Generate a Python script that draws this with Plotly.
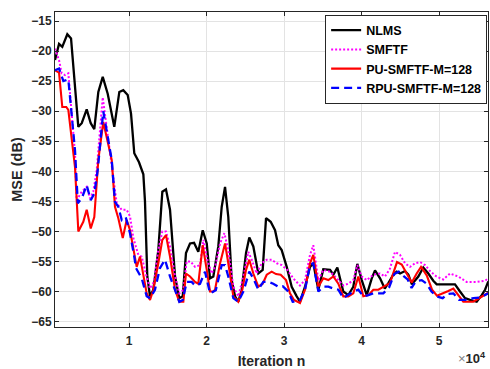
import plotly.graph_objects as go

# ---------------- data ----------------
nlms_iter = [450, 970, 1390, 2040, 2520, 3460, 3900, 4540, 5060, 5520, 6040, 6610, 7250, 8100,
             8750, 9260, 9830, 10260, 10680, 11290, 11850, 12060, 12360, 12710, 13140, 13780,
             14300, 14770, 15290, 15940, 16490, 16930, 17350, 17870, 18390, 18940, 19510, 20030,
             20450, 20880, 21520, 21960, 22390, 22810, 23250, 23680, 24100, 24540, 25100, 25520,
             26040, 26680, 27250, 27680, 28280, 28840, 29260, 29700, 30350, 30990, 31640, 32060,
             32710, 33350, 33780, 34430, 35070, 35940, 36360, 36880, 37650, 38300, 38940, 39460,
             40030, 40670, 41320, 41740, 42390, 43000, 43500, 44100, 44540, 44970, 45610, 46040,
             46500, 47330, 47970, 48620, 49260, 49700, 50550, 52060, 52710, 53350, 54000, 54860,
             55510, 55940, 56360]
nlms_mse = [-21.5, -18.8, -19.3, -17.2, -17.9, -32.6, -32.0, -29.7, -32.0, -33.0, -26.8, -24.3, -27.1, -32.6,
            -26.8, -26.5, -27.3, -30.4, -37.0, -38.5, -40.5, -45.0, -57.5, -60.8, -59.7, -53.1,
            -43.4, -43.0, -46.4, -57.5, -61.1, -60.8, -53.6, -52.0, -51.9, -53.4, -49.8, -52.0,
            -57.8, -57.5, -52.5, -45.9, -42.6, -47.6, -58.1, -60.8, -61.7, -59.7, -53.6, -51.0,
            -52.5, -57.0, -56.4, -47.8, -48.4, -49.8, -52.3, -53.1, -55.9, -59.2, -60.8, -61.7,
            -59.2, -55.9, -55.3, -59.7, -56.3, -56.4, -57.2, -56.0, -60.0, -60.6, -59.2, -55.4,
            -58.1, -60.6, -57.8, -56.5, -57.8, -59.5, -58.5, -57.2, -56.7, -57.0, -56.6, -57.2,
            -58.8, -57.5, -56.0, -57.0, -58.2, -58.8, -58.8, -58.8, -60.0, -61.1, -61.4, -61.7,
            -60.6, -59.7, -58.3]

smftf_iter = [450, 970, 1310, 1740, 2170, 3030, 3250, 3900, 4540, 4970, 5390, 5830, 6610, 8410,
              9060, 9700, 10130, 10560, 11200, 11640, 12200, 12710, 13220, 13780, 14300, 14770,
              15290, 15940, 16490, 17010, 17440, 17960, 18520, 19160, 19590, 20100, 20660, 21100,
              21750, 22300, 22810, 23460, 24100, 24750, 25390, 25830, 26470, 27120, 27770, 28410,
              29060, 29700, 30420, 31190, 31840, 32060, 32710, 33350, 33780, 34430, 35070, 35940,
              36580, 37010, 37650, 38300, 38940, 39460, 40030, 40670, 41520, 42390, 43030, 43670,
              44320, 44970, 45610, 46260, 46900, 47550, 48200, 48840, 49660, 50550, 51420, 52490,
              53560, 54860, 55940, 56360]
smftf_mse = [-19.6, -21.5, -23.7, -24.0, -23.7, -37.0, -44.8, -43.4, -42.6, -44.5, -43.4, -39.8, -27.7, -45.3,
             -46.4, -46.4, -47.5, -51.1, -53.9, -54.2, -57.2, -59.5, -58.4, -53.1, -50.0, -50.0,
             -52.5, -57.5, -60.3, -59.7, -55.0, -55.0, -55.9, -55.6, -51.4, -54.7, -57.0, -55.9,
             -52.0, -50.3, -53.1, -59.2, -60.8, -57.5, -53.4, -54.7, -57.0, -55.3, -54.7, -54.7,
             -55.3, -55.6, -56.4, -57.8, -58.7, -59.0, -58.1, -53.9, -52.3, -58.1, -56.4, -56.7,
             -57.5, -58.1, -59.0, -58.7, -58.1, -55.6, -57.5, -58.1, -57.2, -57.0, -57.5, -56.2,
             -53.4, -53.9, -55.3, -55.9, -55.3, -55.1, -55.6, -56.6, -57.5, -58.0, -57.0, -57.5,
             -58.4, -58.4, -58.2, -57.8]

pu_iter = [450, 970, 1390, 1900, 2170, 3030, 3460, 4100, 4540, 5060, 5520, 5830, 6040, 6680,
           7770, 8190, 8620, 9190, 9700, 10130, 10990, 11420, 11940, 12280, 12710, 13140, 13780,
           14300, 14770, 15290, 15940, 16490, 17010, 17350, 17870, 18520, 18940, 19510, 20030,
           20450, 20880, 21100, 21750, 22390, 22810, 23460, 24100, 24620, 25100, 25520, 26040,
           26680, 27250, 27770, 28410, 28970, 29570, 30260, 30770, 31290, 32060, 32710, 33350,
           33780, 34430, 35070, 35720, 36360, 37010, 37650, 38300, 38940, 39590, 40230, 40880,
           41520, 42170, 42810, 43670, 44580, 45190, 45740, 46480, 47120, 47680, 48410, 49100,
           49740, 50550, 51200, 51850, 52490, 53130, 54420, 55290, 55940, 56360]
pu_mse = [-23.2, -23.6, -29.3, -29.3, -29.8, -39.3, -50.0, -48.4, -46.4, -49.5, -47.6, -41.5, -38.1, -31.8,
          -38.1, -45.9, -47.8, -51.1, -48.1, -49.8, -55.9, -54.2, -58.1, -60.3, -61.4, -59.7, -55.3,
          -51.4, -50.6, -54.2, -59.7, -61.7, -61.7, -57.0, -57.5, -58.4, -58.7, -52.3, -56.4,
          -60.0, -60.0, -59.7, -55.3, -52.0, -55.3, -60.8, -61.7, -59.7, -56.4, -54.7, -57.0,
          -59.2, -58.7, -57.2, -56.7, -57.1, -57.2, -58.1, -60.3, -61.4, -61.9, -59.7, -55.3,
          -53.9, -59.2, -57.8, -58.1, -57.5, -58.7, -60.8, -60.8, -60.3, -57.5, -60.8, -60.6,
          -59.7, -59.7, -59.2, -58.6, -55.1, -55.5, -56.8, -58.5, -57.0, -55.9, -57.3, -59.7,
          -60.7, -60.3, -59.9, -59.5, -60.6, -61.7, -61.7, -61.0, -60.5, -60.2]

rpu_iter = [450, 970, 1530, 2170, 3030, 3390, 3900, 4540, 5060, 5520, 5960, 6680, 7770, 8190,
            8620, 9060, 9570, 10130, 10680, 10900, 11640, 12280, 12710, 13350, 13990, 14640,
            15290, 15940, 16490, 16930, 17440, 18090, 18520, 19160, 19810, 20450, 21200, 21960,
            22390, 22810, 23460, 24100, 24750, 25520, 26040, 26680, 27320, 27970, 28610, 29260,
            29830, 30550, 31120, 31840, 32060, 32710, 33350, 33780, 34430, 35070, 35720, 36360,
            37010, 37650, 38300, 38940, 39590, 40230, 40880, 41520, 42170, 42810, 43560, 44230,
            44800, 45300, 45950, 46460, 47000, 47770, 48400, 49030, 49670, 50470, 51100, 51850,
            52600, 53560, 54420, 55290, 55940, 56360]
rpu_mse = [-23.2, -22.9, -25.0, -24.7, -36.5, -45.3, -44.5, -42.3, -44.8, -43.7, -39.8, -30.0, -38.1, -45.1,
           -45.9, -48.1, -47.6, -50.3, -54.2, -56.1, -57.8, -60.8, -61.1, -59.7, -56.1, -54.7,
           -57.5, -59.7, -61.7, -61.4, -58.4, -58.4, -59.0, -58.7, -56.7, -60.3, -59.8, -55.6,
           -55.6, -57.5, -61.1, -61.7, -60.0, -56.7, -57.8, -59.7, -58.4, -58.4, -58.7, -59.2,
           -59.1, -60.0, -61.7, -61.6, -61.4, -59.7, -55.6, -55.3, -60.0, -59.2, -59.2, -59.5,
           -59.7, -61.1, -60.6, -60.0, -59.7, -60.8, -60.6, -60.3, -60.3, -60.3, -59.3, -57.1,
           -56.7, -57.2, -58.0, -59.4, -58.3, -58.1, -58.7, -60.0, -60.8, -61.1, -60.4, -60.3,
           -61.4, -61.4, -61.1, -61.0, -60.5, -60.3]

x_tick_vals = [10000, 20000, 30000, 40000, 50000]
x_tick_text = ["1", "2", "3", "4", "5"]
y_tick_vals = [-65, -60, -55, -50, -45, -40, -35, -30, -25, -20, -15]

# ---------------- figure ----------------
AX = "#262626"
FONT = "Liberation Sans, Arial, Helvetica, sans-serif"

fig = go.Figure()
fig.add_trace(go.Scatter(x=nlms_iter, y=nlms_mse, mode="lines", name="NLMS",
                         line=dict(color="#000000", width=2.3)))
fig.add_trace(go.Scatter(x=smftf_iter, y=smftf_mse, mode="lines", name="SMFTF",
                         line=dict(color="#FF00FF", width=2, dash="2px,2px")))
fig.add_trace(go.Scatter(x=pu_iter, y=pu_mse, mode="lines", name="PU-SMFTF-M=128",
                         line=dict(color="#FF0000", width=2.1)))
fig.add_trace(go.Scatter(x=rpu_iter, y=rpu_mse, mode="lines", name="RPU-SMFTF-M=128",
                         line=dict(color="#0000FF", width=2.3, dash="8px,5px")))

fig.update_layout(
    width=490, height=369,
    margin=dict(l=55, r=2, t=12, b=42),
    paper_bgcolor="white", plot_bgcolor="white",
    font=dict(family=FONT, color=AX, size=12),
    showlegend=True,
    legend=dict(x=0.998, xanchor="right", y=0.992, yanchor="top",
                bgcolor="white", bordercolor=AX, borderwidth=1,
                font=dict(family=FONT, size=12.5, color="#000000", weight="bold"),
                tracegroupgap=0, itemwidth=30),
    xaxis=dict(range=[450, 56320], tickvals=x_tick_vals, ticktext=x_tick_text,
               ticks="inside", ticklen=4, tickcolor=AX, showline=True, linecolor=AX,
               linewidth=1, mirror="ticks", showgrid=True, gridcolor="#e3e3e3",
               gridwidth=1, zeroline=False, ticklabelstandoff=3,
               tickfont=dict(family=FONT, size=12, color=AX, weight="bold"),
               title=dict(text="Iteration n", standoff=10,
                          font=dict(family=FONT, size=14, color=AX, weight="bold"))),
    yaxis=dict(range=[-65.9, -13.5], tickvals=y_tick_vals,
               ticks="inside", ticklen=4, tickcolor=AX, showline=True, linecolor=AX,
               linewidth=1, mirror="ticks", showgrid=True, gridcolor="#e3e3e3",
               gridwidth=1, zeroline=False,
               tickfont=dict(family=FONT, size=12, color=AX, weight="bold"),
               title=dict(text="MSE (dB)", standoff=5,
                          font=dict(family=FONT, size=14.5, color=AX, weight="bold"))),
)

fig.add_annotation(xref="paper", yref="paper", x=1.0, y=-0.13, xanchor="right", yanchor="bottom",
                   text="<span style='color:#808080'>×</span><b>10<sup>4</sup></b>",
                   showarrow=False, font=dict(family=FONT, size=13, color=AX))

fig.write_html("out.html")
